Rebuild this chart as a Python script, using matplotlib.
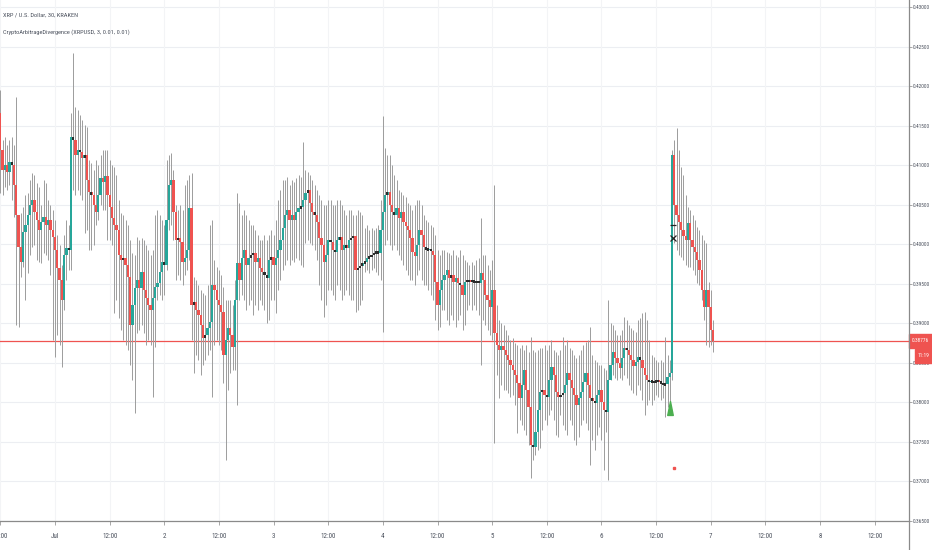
import matplotlib
matplotlib.use("Agg")
import matplotlib.pyplot as plt
from matplotlib.patches import Rectangle
from matplotlib.transforms import blended_transform_factory
from matplotlib.path import Path
from matplotlib import font_manager as fm
import numpy as np

# ---------------- data (prices in units of 0.0001 USD) ----------------
title_main = "XRP / U.S. Dollar, 30, KRAKEN"
title_ind = "CryptoArbitrageDivergence (XRPUSD, 3, 0.01, 0.01)"

first_open_e4 = 4166

close_e4 = [
    4119, 4094, 4100, 4091, 4104, 4100, 4075, 4037, 3996, 3977,
    4015, 4024, 4037, 4050, 4056, 4041, 4030, 4018, 4028, 4034,
    4024, 4030, 4018, 4009, 3993, 3970, 3955, 3929, 3986, 3995,
    3993, 4136, 4132, 4113, 4119, 4117, 4109, 4113, 4081, 4066,
    4062, 4050, 4041, 4062, 4084, 4079, 4086, 4062, 4047, 4033,
    4024, 4018, 3986, 3980, 3982, 3974, 3958, 3898, 3923, 3944,
    3955, 3944, 3965, 3942, 3932, 3923, 3917, 3932, 3946, 3951,
    3965, 3977, 3974, 4030, 4075, 4081, 4041, 4005, 4008, 4003,
    3977, 3982, 3993, 4046, 3923, 3927, 3917, 3910, 3898, 3881,
    3885, 3894, 3901, 3948, 3942, 3929, 3923, 3914, 3860, 3879,
    3894, 3885, 3870, 3929, 3976, 3955, 3982, 3993, 3974, 3982,
    3986, 3989, 3977, 3982, 3970, 3965, 3961, 3957, 3980, 3984,
    3974, 3982, 3993, 4005, 4020, 4037, 4043, 4030, 4037, 4030,
    4041, 4046, 4047, 4056, 4065, 4068, 4052, 4041, 4037, 4028,
    4008, 3999, 3977, 3986, 4005, 4003, 3993, 3990, 4005, 4009,
    3993, 3999, 3995, 4005, 4008, 4010, 3967, 3970, 3972, 3976,
    3977, 3982, 3984, 3986, 3989, 3990, 3989, 4018, 4041, 4062,
    4066, 4050, 4041, 4037, 4046, 4033, 4041, 4028, 4023, 4018,
    4008, 3990, 3985, 3999, 4018, 4012, 3996, 3993, 3994, 3991,
    3986, 3952, 3923, 3942, 3955, 3961, 3967, 3957, 3961, 3952,
    3957, 3951, 3948, 3936, 3952, 3955, 3952, 3955, 3951, 3953,
    3951, 3963, 3955, 3936, 3929, 3920, 3942, 3888, 3872, 3866,
    3871, 3866, 3860, 3853, 3847, 3841, 3834, 3824, 3805, 3822,
    3841, 3815, 3794, 3746, 3743, 3762, 3790, 3813, 3815, 3809,
    3806, 3828, 3844, 3834, 3813, 3806, 3809, 3812, 3822, 3837,
    3828, 3818, 3809, 3796, 3805, 3813, 3825, 3837, 3822, 3805,
    3801, 3799, 3809, 3815, 3800, 3790, 3787, 3828, 3847, 3863,
    3856, 3849, 3843, 3856, 3868, 3866, 3860, 3853, 3846, 3851,
    3857, 3853, 3843, 3834, 3828, 3825, 3827, 3824, 3828, 3825,
    3824, 3822, 3823, 3832, 3837, 4113, 4050, 4037, 4028, 4018,
    4010, 4005, 4027, 4005, 3996, 3990, 3980, 3967, 3942, 3921,
    3942, 3921, 3891, 3877.6,
]

high_e4 = [
    4195, 4132, 4136, 4125, 4132, 4136, 4125, 4186, 4001, 4039,
    4047, 4062, 4065, 4081, 4090, 4087, 4077, 4072, 4049, 4081,
    4077, 4056, 4049, 4043, 4030, 4012, 3999, 3974, 4012, 4030,
    4024, 4166, 4242, 4174, 4170, 4163, 4157, 4151, 4148, 4106,
    4103, 4094, 4106, 4100, 4113, 4119, 4119, 4119, 4106, 4100,
    4098, 4087, 4056, 4039, 4037, 4030, 4024, 4005, 3989, 3986,
    4009, 4005, 4008, 4005, 3999, 3993, 3986, 3993, 4037, 4043,
    4037, 4030, 4024, 4106, 4113, 4115, 4094, 4049, 4043, 4049,
    4043, 4075, 4081, 4087, 4090, 3958, 3955, 3948, 3942, 3938,
    3936, 3948, 4024, 4030, 3980, 3971, 3967, 3961, 3946, 3929,
    3929, 3929, 3923, 3955, 4065, 4052, 4037, 4043, 4037, 4030,
    4024, 4024, 4018, 4012, 4005, 4005, 4012, 4005, 4012, 4018,
    4012, 4030, 4056, 4068, 4081, 4081, 4085, 4075, 4081, 4079,
    4084, 4087, 4085, 4129, 4094, 4091, 4087, 4081, 4075, 4068,
    4062, 4056, 4049, 4049, 4056, 4056, 4049, 4049, 4056, 4056,
    4049, 4043, 4037, 4043, 4043, 4037, 4037, 4043, 4041, 4037,
    4020, 4024, 4018, 4020, 4018, 4020, 4024, 4056, 4162, 4122,
    4113, 4113, 4100, 4087, 4081, 4068, 4066, 4062, 4060, 4052,
    4049, 4043, 4049, 4056, 4056, 4049, 4037, 4030, 4028, 4024,
    4022, 4012, 3993, 3986, 3993, 3993, 3990, 3989, 3986, 3993,
    3986, 3984, 3993, 3986, 3980, 3977, 3974, 3977, 3974, 3980,
    3982, 4033, 3986, 3986, 3974, 3967, 3980, 4075, 3923, 3904,
    3900, 3898, 3891, 3885, 3879, 3881, 3875, 3872, 3868, 3872,
    3866, 3872, 3863, 3882, 3866, 3863, 3866, 3868, 3868, 3872,
    3866, 3872, 3879, 3866, 3863, 3860, 3866, 3882, 3872, 3879,
    3868, 3866, 3860, 3856, 3860, 3866, 3872, 3876, 3879, 3895,
    3860, 3853, 3851, 3847, 3847, 3843, 3841, 3929, 3900, 3898,
    3891, 3885, 3885, 3891, 3908, 3904, 3898, 3894, 3891, 3889,
    3904, 3906, 3913, 3914, 3904, 3879, 3860, 3857, 3853, 3851,
    3853, 3851, 3882, 3860, 3853, 4119, 4132, 4147, 4119, 4098,
    4087, 4062, 4047, 4043, 4037, 4030, 4022, 4018, 4012, 4005,
    4001, 3952, 3942, 3904,
]

low_e4 = [
    4065, 4062, 4072, 4068, 4075, 4056, 4034, 3898, 3895, 3958,
    3971, 3929, 3963, 3986, 3996, 3999, 3980, 3977, 3976, 3989,
    3986, 3980, 3961, 3879, 3857, 3885, 3872, 3844, 3917, 3955,
    3967, 3967, 4068, 4062, 4068, 4062, 4056, 4014, 4018, 3993,
    3993, 3999, 4024, 4030, 4049, 4043, 4043, 4005, 4005, 3999,
    3913, 3929, 3906, 3891, 3879, 3872, 3866, 3847, 3828, 3786,
    3887, 3891, 3898, 3887, 3872, 3879, 3872, 3806, 3870, 3929,
    3936, 3929, 3936, 3967, 4018, 4024, 4005, 3955, 3961, 3955,
    3948, 3961, 3967, 3980, 3879, 3837, 3860, 3853, 3834, 3847,
    3853, 3860, 3866, 3806, 3872, 3879, 3872, 3866, 3824, 3727,
    3815, 3837, 3841, 3841, 3796, 3929, 3936, 3929, 3917, 3923,
    3929, 3910, 3923, 3917, 3929, 3923, 3917, 3900, 3904, 3929,
    3929, 3913, 3942, 3955, 3967, 3974, 3980, 3974, 3980, 3977,
    3982, 3980, 3974, 3971, 4001, 4005, 4001, 3999, 3993, 3980,
    3948, 3929, 3908, 3923, 3942, 3942, 3936, 3929, 3948, 3942,
    3929, 3936, 3942, 3936, 3929, 3929, 3914, 3917, 3923, 3929,
    3965, 3967, 3963, 3967, 3970, 3965, 3961, 3955, 3889, 3999,
    4005, 3999, 3993, 3999, 3993, 3986, 3980, 3974, 3967, 3961,
    3955, 3955, 3948, 3961, 3967, 3955, 3948, 3948, 3942, 3936,
    3929, 3904, 3891, 3895, 3917, 3917, 3904, 3898, 3910, 3904,
    3895, 3904, 3910, 3891, 3898, 3917, 3923, 3917, 3923, 3917,
    3910, 3847, 3904, 3898, 3891, 3885, 3879, 3748, 3834, 3805,
    3822, 3815, 3815, 3812, 3806, 3809, 3796, 3761, 3777, 3771,
    3765, 3758, 3746, 3704, 3727, 3733, 3739, 3742, 3765, 3777,
    3771, 3784, 3790, 3777, 3758, 3756, 3784, 3771, 3765, 3758,
    3777, 3771, 3752, 3746, 3756, 3771, 3777, 3774, 3765, 3720,
    3752, 3739, 3758, 3769, 3752, 3714, 3762, 3701, 3828, 3834,
    3830, 3828, 3830, 3828, 3834, 3830, 3822, 3815, 3812, 3809,
    3822, 3815, 3803, 3784, 3796, 3803, 3796, 3803, 3809, 3806,
    3803, 3805, 3781, 3794, 3796, 3828, 4001, 3993, 3986, 3984,
    3980, 3974, 3971, 3971, 3967, 3961, 3951, 3948, 3929, 3904,
    3872, 3870, 3872, 3863,
]

# time axis: bar index of each label (30-minute bars, bar 0 = Jun 30 12:00)
time_tick_bars = [0, 24, 48, 72, 96, 120, 144, 168, 192, 216, 240, 264,
                  288, 312, 336, 360, 384]
time_tick_labels = ["12:00", "Jul", "12:00", "2", "12:00", "3", "12:00", "4",
                    "12:00", "5", "12:00", "6", "12:00", "7", "12:00", "8",
                    "12:00"]
price_ticks = [0.365, 0.370, 0.375, 0.380, 0.385, 0.390, 0.395, 0.400,
               0.405, 0.410, 0.415, 0.420, 0.425, 0.430]

last_price = 0.38776
countdown_text = "11:19"

buy_signal_bar = 294.3
buy_signal_price = 0.37926
cross_bar = 295.3
cross_price = 0.40074
cross_tick_price = 0.40245
red_dot_bar = 296.0
red_dot_price = 0.3717

# ---------------- fonts: prefer a condensed sans face ----------------
def pick_condensed():
    entries = fm.fontManager.ttflist
    def regular(f):
        w = f.weight
        return f.style == "normal" and (w in (400, "normal", "regular", "book"))
    for name in ["Liberation Sans Narrow", "Roboto Condensed", "Open Sans Condensed",
                 "DejaVu Sans Condensed", "Noto Sans Condensed"]:
        for f in entries:
            if f.name == name and regular(f):
                return f.fname
    for f in entries:
        if (f.stretch in ("condensed", "semi-condensed", "extra-condensed")
                and regular(f) and "Mono" not in f.name and "Serif" not in f.name):
            return f.fname
    return None

cond_file = pick_condensed()

def fp(size):
    if cond_file:
        p = fm.FontProperties(fname=cond_file)
    else:
        p = fm.FontProperties(family=["Liberation Sans", "DejaVu Sans"])
    p.set_size(size)
    return p

# ---------------- derived series ----------------
close = np.array(close_e4) / 1e4
high = np.array(high_e4) / 1e4
low = np.array(low_e4) / 1e4
opn = np.concatenate([[first_open_e4 / 1e4], close[:-1]])
idx = np.arange(len(close))

UP = "#26a69a"
DOWN = "#ef5350"
WICK = "#9c9c9c"
TEXT = "#4c525e"
GRID = "#eceef2"

W, H = 932, 550
fig = plt.figure(figsize=(W / 100, H / 100), dpi=100)
fig.patch.set_facecolor("white")
plot_right = 909
plot_bottom = 521
ax = fig.add_axes([0, (H - plot_bottom) / H, plot_right / W, plot_bottom / H])
ax.set_facecolor("white")

ymin, ymax = 0.36495, 0.4309
ax.set_xlim(-0.15, 399.05)
ax.set_ylim(ymin, ymax)
px = (ymax - ymin) / plot_bottom  # price units per pixel

# grid
for p in price_ticks:
    ax.axhline(p, color=GRID, lw=0.8, zorder=0)
for b in time_tick_bars:
    ax.axvline(b, color="#f3f4f6", lw=0.8, zorder=0)

# wicks
ax.vlines(idx, low, high, color=WICK, lw=0.7, zorder=2)

# bodies
up = close >= opn
body_bottom = np.minimum(opn, close)
body_h = np.abs(close - opn)
ax.bar(idx[up], body_h[up], bottom=body_bottom[up], width=1.0,
       color=UP, linewidth=0, zorder=3)
ax.bar(idx[~up], body_h[~up], bottom=body_bottom[~up], width=1.0,
       color=DOWN, linewidth=0, zorder=3)
small = body_h < 0.00045
mid = (opn + close) / 2
ax.bar(idx[small], np.full(small.sum(), 0.00032), bottom=mid[small] - 0.00016,
       width=0.9, color="#2b2b2b", linewidth=0, zorder=4)

# last price line
ax.axhline(last_price, color=DOWN, lw=0.9, zorder=1)

# signal markers
tri = Path([(-0.4, -1.0), (0.4, -1.0), (0.0, 1.0), (-0.4, -1.0)],
           [Path.MOVETO, Path.LINETO, Path.LINETO, Path.CLOSEPOLY])
ax.plot([buy_signal_bar], [buy_signal_price], marker=tri, markersize=10,
        color="#4caf50", linestyle="none", zorder=5)
ax.plot([cross_bar], [cross_price], marker="x", markersize=4, mew=0.9,
        color="#222222", linestyle="none", zorder=5)
ax.plot([cross_bar], [cross_tick_price], marker="_", markersize=4, mew=0.9,
        color="#222222", linestyle="none", zorder=5)
ax.plot([red_dot_bar], [red_dot_price], marker="s", markersize=1.6,
        color=DOWN, linestyle="none", zorder=5)

# axes styling
for s in ["top", "left", "right"]:
    ax.spines[s].set_visible(False)
ax.spines["bottom"].set_color("#8a8a8a")
ax.spines["bottom"].set_linewidth(0.9)

ax.set_xticks(time_tick_bars)
ax.set_xticklabels(time_tick_labels, color=TEXT)
for lab in ax.get_xticklabels():
    lab.set_fontproperties(fp(5.0))
ax.tick_params(axis="x", length=3, width=0.6, color="#9a9a9a", pad=6)

ax.yaxis.tick_right()
ax.set_yticks(price_ticks)
ax.set_yticklabels([f"{p:.5f}" for p in price_ticks], color=TEXT)
for lab in ax.get_yticklabels():
    lab.set_fontproperties(fp(3.85))
ax.tick_params(axis="y", length=2.0, width=0.6, color="#9a9a9a", pad=1.0)

# price axis separator line
fig.add_artist(plt.Line2D([plot_right / W, plot_right / W], [0, 1],
                          transform=fig.transFigure, color="#8a8a8a", lw=0.9))

# last-price label and countdown
bt = blended_transform_factory(fig.transFigure, ax.transData)
box_h = 14 * px
ax.add_artist(Rectangle((plot_right / W, last_price - box_h / 2),
                        (W - plot_right) / W, box_h, transform=bt,
                        color=DOWN, clip_on=False, zorder=10))
fig.text((plot_right + 11.5) / W, last_price, f"{last_price:.5f}", transform=bt,
         fontproperties=fp(3.85), color="white", ha="center", va="center",
         zorder=11)
cd_center = last_price - 15 * px
ax.add_artist(Rectangle(((plot_right + 6) / W, cd_center - box_h / 2),
                        (W - plot_right - 6) / W, box_h, transform=bt,
                        color=DOWN, clip_on=False, zorder=10))
fig.text((plot_right + 14.5) / W, cd_center, countdown_text, transform=bt,
         fontproperties=fp(3.85), color="white", ha="center", va="center",
         zorder=11)

# header
fig.text(3 / W, 1 - 15 / H, title_main, fontproperties=fp(4.6), color=TEXT,
         va="center", ha="left")
fig.text(3 / W, 1 - 32 / H, title_ind, fontproperties=fp(4.6), color=TEXT,
         va="center", ha="left")

fig.savefig("out.png", dpi=100, facecolor="white")
